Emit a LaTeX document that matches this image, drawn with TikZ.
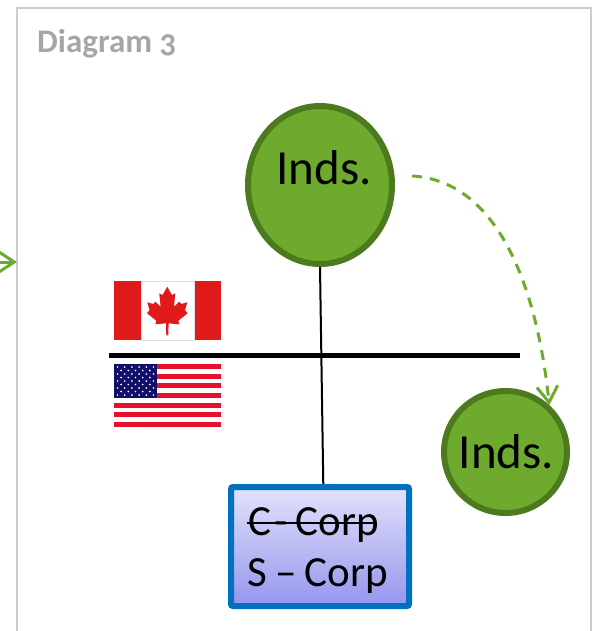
\documentclass[tikz,border=0pt]{standalone}
\usepackage{fontspec}
\usepackage{tikz}
\usetikzlibrary{arrows.meta,shapes.geometric}
\setmainfont{Carlito}[Numbers=OldStyle]
\newfontfamily\corpfont{Carlito}[WordSpace=0.85]
\definecolor{leafgreen}{HTML}{6EAA2E}
\definecolor{darkgreen}{HTML}{4E7A1F}
\definecolor{corpblue}{HTML}{0070C0}
\definecolor{corptop}{HTML}{E2E2FB}
\definecolor{corpbottom}{HTML}{9595EE}
\definecolor{canadared}{HTML}{E01A1A}
\definecolor{usred}{HTML}{E8112D}
\definecolor{usnavy}{HTML}{10106B}
\tikzset{
    inds/.style={ellipse, draw=darkgreen, fill=leafgreen, line width=6pt, inner sep=-14pt, text=black, font=\fontsize{49}{52}\selectfont},
    corpbox/.style={draw=corpblue, line width=6pt, rounded corners=2pt, top color=corptop, bottom color=corpbottom, inner sep=0pt},
    corptext/.style={anchor=base west, inner sep=0pt, font=\corpfont\fontsize{43}{50}\selectfont},
    moveto/.style={leafgreen, line width=3pt, -{Straight Barb[length=16pt,width=21pt]}},
}
\begin{document}
\begin{tikzpicture}[x=1pt,y=-1pt]
    \useasboundingbox (0,0) rectangle (596,631);

    \coordinate (frameA) at (17,631);
    \coordinate (frameB) at (17,8);
    \coordinate (frameC) at (591,8);
    \coordinate (frameD) at (591,631);
    \draw[black!20, line width=1.5pt] (frameA) -- (frameB) -- (frameC) -- (frameD);

    \node [anchor=base west, inner sep=0pt, text=black!35, font=\fontsize{33}{36}\selectfont\bfseries] (title) at (37,53) {Diagram 3};

    \node [inds, minimum width=144pt, minimum height=158pt, text depth=35pt] (indsTop) at (320,185) {\hspace*{8pt}Inds.};
    \node [inds, minimum width=123pt, minimum height=122pt] (indsLow) at (505.5,452) {\hspace*{2pt}Inds.};
    \node [corpbox, minimum width=178pt, minimum height=119pt] (corp) at (320,546.5) {};
    \node [corptext] (ccorp) at (248,535) {C\hspace{-5pt} - Corp};
    \node [corptext] (scorp) at (247,586) {S – Corp};

    \coordinate (strikeW) at (247,523);
    \coordinate (strikeE) at (377,523);
    \coordinate (borderW) at (109,355);
    \coordinate (borderE) at (520,355);
    \coordinate (moveStart) at (412,176);
    \coordinate (enterA) at (0,262);
    \coordinate (enterB) at (17,262);

    \draw[line width=2pt] (strikeW) -- (strikeE);
    \draw[line width=2pt] (indsTop.south) -- (corp.87);
    \draw[line width=5pt] (borderW) -- (borderE);
    \draw[moveto, dash pattern=on 10pt off 8pt] (moveStart) .. controls (490,180) and (535,270) .. (indsLow.47);
    \draw[moveto] (enterA) -- (enterB);

    % canada
    \fill[canadared] (114,281) rectangle (141,340);
    \fill[canadared] (194,281) rectangle (221,340);
    \draw[black!12, line width=.7pt] (141,281) rectangle (194,340);
    \fill[canadared] (167.3,286.7) -- (172,295) -- (175.3,293.3) -- (174,306.7) -- (179.3,301.7) -- (181.3,304)
        -- (187.3,302.3) -- (185,310) -- (187.6,313.3) -- (178.3,320.7) -- (179.3,324.3) -- (168.6,323.3)
        -- (168.3,335.3) -- (166.3,335.3) -- (166,323.3) -- (155.3,324.3) -- (156.3,320.7) -- (147,313.3)
        -- (149.6,310) -- (147.3,302.3) -- (153.3,304) -- (155.3,301.7) -- (160.6,306.7) -- (159.3,293.3)
        -- (162.6,295) -- cycle;

    % usa
    \foreach \i in {0,2,...,12}
        \fill[usred] (114,364+4.846*\i) rectangle (221,364+4.846*\i+4.846);
    \fill[usnavy] (114,364) rectangle (157,398);
    \foreach \r in {0,2,...,8}
        \foreach \c in {0,...,5}
            \fill[white] (117.5+7.2*\c,367+3.5*\r) circle (.95);
    \foreach \r in {1,3,...,7}
        \foreach \c in {0,...,4}
            \fill[white] (121.1+7.2*\c,367+3.5*\r) circle (.95);
\end{tikzpicture}
\end{document}
